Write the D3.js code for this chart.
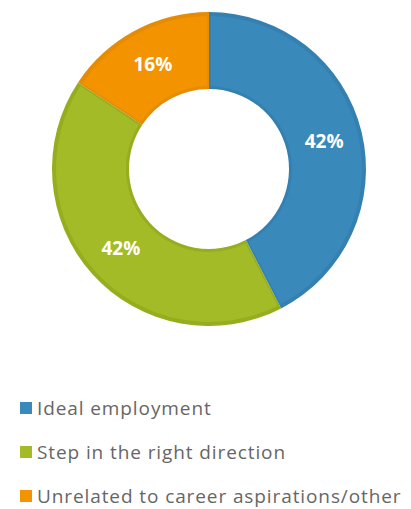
<!DOCTYPE html>
<html>
<head>
<meta charset="utf-8">
<script src="https://cdn.jsdelivr.net/npm/d3@7"></script>
<style>
	body { margin: 0; background: #fff; }
	svg { display: block; }
</style>
</head>
<body>
<div id="viz"></div>
<script>
let WIDTH = 411
let HEIGHT = 509

const categories = ['Ideal employment', 'Step in the right direction', 'Unrelated to career aspirations/other']
const shares = [42.4, 41.9, 15.7]
const labels = ['42%', '42%', '16%']
const colors = ['#3a89bb', '#a3bb26', '#f39300']
const edge_colors = ['#3480b1', '#96ad1e', '#e68b06']

const CX = 209
const CY = 169
const INNER = 80
const OUTER = 157

let svg = d3
	.select('#viz')
	.append('svg')
	.attr('width', WIDTH)
	.attr('height', HEIGHT)

let data = categories.map((name, i) => ({
	name: name,
	value: shares[i],
	label: labels[i],
	color: colors[i],
	edge: edge_colors[i]
}))

const pie = d3
	.pie()
	.value((d) => d.value)
	.sort(null)

const arcs = pie(data)

const arc = d3.arc().innerRadius(INNER).outerRadius(OUTER)
// slightly inset arc to give the darker rim seen on each slice
const inset = d3
	.arc()
	.innerRadius(INNER + 3)
	.outerRadius(OUTER - 4)
	.padAngle(0.02)

let donut = svg.append('g').attr('transform', `translate(${CX},${CY})`)

donut
	.selectAll('path.rim')
	.data(arcs)
	.enter()
	.append('path')
	.attr('class', 'rim')
	.attr('d', arc)
	.attr('fill', (d) => d.data.edge)

donut
	.selectAll('path.slice')
	.data(arcs)
	.enter()
	.append('path')
	.attr('class', 'slice')
	.attr('d', inset)
	.attr('fill', (d) => d.data.color)

donut
	.selectAll('text')
	.data(arcs)
	.enter()
	.append('text')
	.attr('transform', (d) => `translate(${arc.centroid(d)})`)
	.attr('text-anchor', 'middle')
	.attr('dy', '0.36em')
	.style('font-family', '"Open Sans", sans-serif')
	.style('font-weight', 'bold')
	.style('font-size', '19px')
	.style('fill', '#ffffff')
	.text((d) => d.data.label)

// legend
const legend_y = d3
	.scalePoint()
	.domain(categories)
	.range([408, 496])

let legend = svg
	.selectAll('g.legend')
	.data(data)
	.enter()
	.append('g')
	.attr('class', 'legend')
	.attr('transform', (d) => `translate(20,${legend_y(d.name)})`)

legend
	.append('rect')
	.attr('x', 0)
	.attr('y', -6)
	.attr('width', 12)
	.attr('height', 12)
	.attr('fill', (d) => d.color)

legend
	.append('text')
	.attr('x', 17)
	.attr('dy', '0.35em')
	.style('font-family', '"Open Sans", sans-serif')
	.style('font-size', '19px')
	.style('letter-spacing', '0.9px')
	.style('fill', '#666666')
	.text((d) => d.name)
</script>
</body>
</html>
